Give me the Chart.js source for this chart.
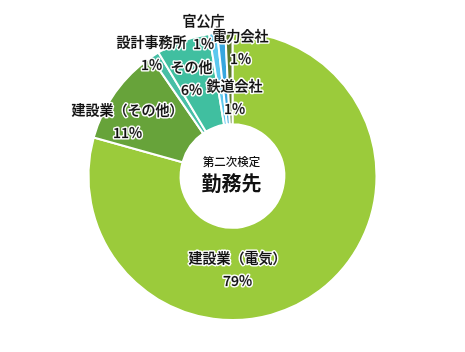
<!DOCTYPE html>
<html><head><meta charset="utf-8">
<script src="https://cdn.jsdelivr.net/npm/chart.js@4"></script>
<style>html,body{margin:0;padding:0;background:#fff}#wrap{width:465px;height:352px}</style>
</head><body><div id="wrap"><canvas id="c" width="465" height="352"></canvas></div>
<script>
const categories = ["建設業（電気）","建設業（その他）","設計事務所","その他","官公庁","鉄道会社","電力会社"];
const values = [79.3, 11.1, 1.0, 6.0, 0.9, 0.9, 0.8];
const pctLabels = ["79%","11%","1%","6%","1%","1%","1%"];
const colors = ["#9BCB3B","#67A33A","#48BFA6","#40BFA0","#5CC8EE","#38A6DE","#5D7A2C"];
// label offsets from chart centre (style only)
const labelOffsets = [[5,82],[-105,-66],[-81,-134],[-41,-109],[-29,-155],[2,-90],[8,-140]];
const centerTitle = ["第二次検定","勤務先"];

const labelPlugin = {
  id:'labels',
  afterDatasetsDraw(chart){
    const ctx = chart.ctx;
    const arc = chart.getDatasetMeta(0).data[0];
    const cx = arc.x, cy = arc.y;
    ctx.save();
    ctx.textAlign='center'; ctx.textBaseline='middle';
    ctx.lineJoin='round';
    ctx.font='500 14px "Noto Sans CJK JP"';
    categories.forEach((c,i)=>{
      const [dx,dy]=labelOffsets[i];
      const lines=[c,pctLabels[i]];
      lines.forEach((t,j)=>{
        const x=cx+dx, y=cy+dy+j*23;
        ctx.strokeStyle='#fff'; ctx.lineWidth=3;
        ctx.strokeText(t,x,y);
        ctx.fillStyle='#111';
        ctx.fillText(t,x,y);
        ctx.strokeStyle='rgba(17,17,17,0.5)'; ctx.lineWidth=0.4;
        ctx.strokeText(t,x,y);
      });
    });
    ctx.fillStyle='#111';
    ctx.font='500 11.5px "Noto Sans CJK JP"';
    ctx.fillText(centerTitle[0],cx-1,cy-14);
    ctx.font='bold 20px "Noto Sans CJK JP"';
    ctx.fillText(centerTitle[1],cx-1,cy+7);
    ctx.restore();
  }
};

new Chart(document.getElementById('c'),{
  type:'doughnut',
  data:{labels:categories,datasets:[{data:values,backgroundColor:colors,borderColor:'#fff',borderWidth:2}]},
  options:{
    responsive:false,animation:false,cutout:'36%',
    layout:{padding:{top:31,bottom:31,left:0,right:0}},
    plugins:{legend:{display:false},tooltip:{enabled:false}}
  },
  plugins:[labelPlugin]
});
</script></body></html>
